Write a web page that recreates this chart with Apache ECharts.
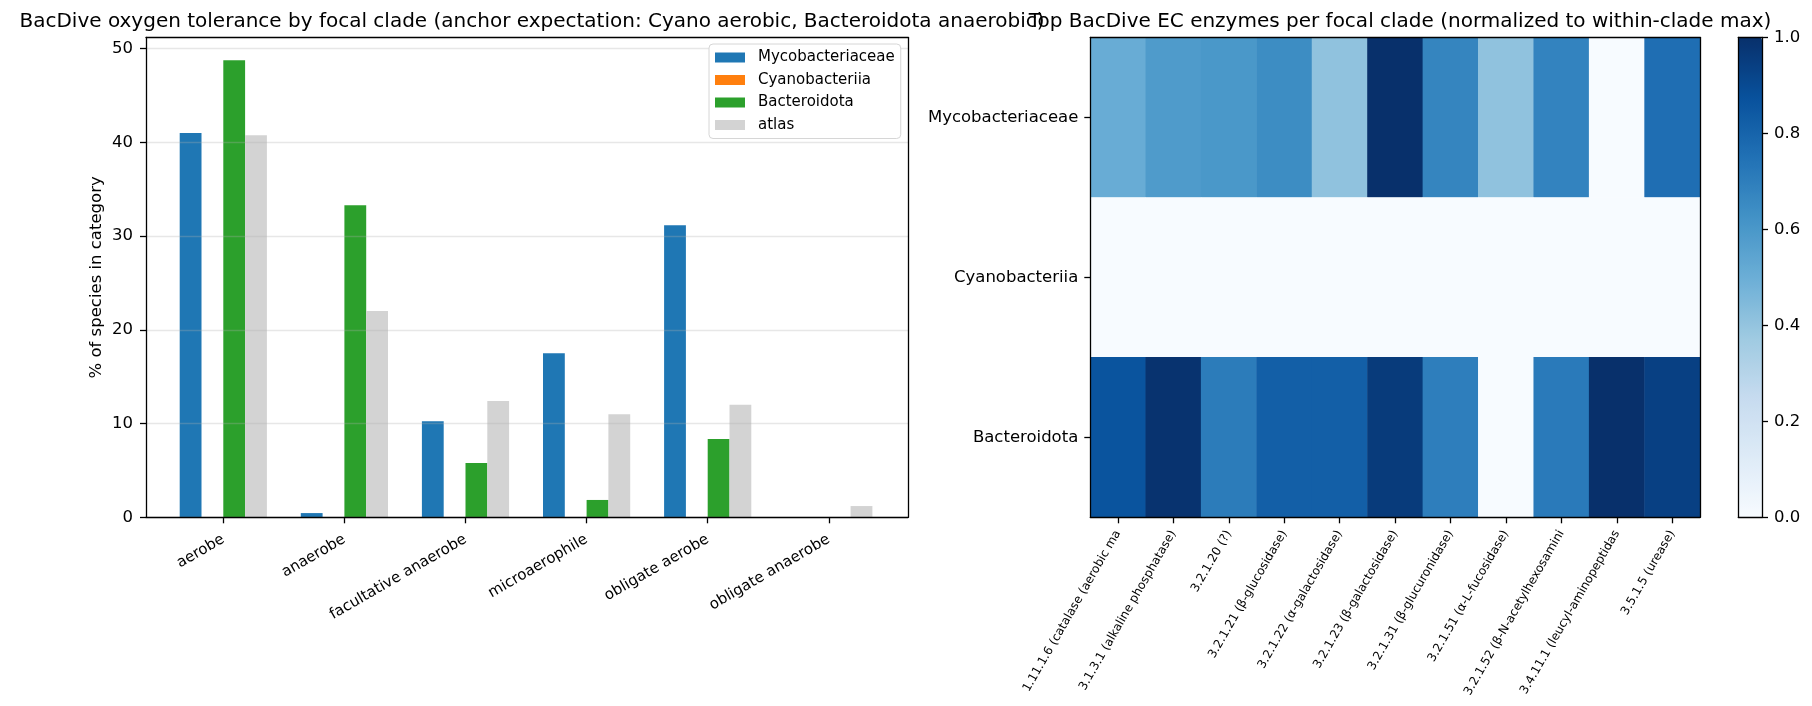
<!DOCTYPE html>
<html>
<head>
<meta charset="utf-8">
<title>BacDive oxygen tolerance and EC enzymes</title>
<script src="https://cdn.jsdelivr.net/npm/echarts@6.0.0/dist/echarts.min.js"></script>
<style>
  html, body { margin: 0; padding: 0; background: #fff; }
  #chart { width: 1812px; height: 706px; }
</style>
</head>
<body>
<div id="chart"></div>
<script>
const oxygenCategories = [
  'aerobe',
  'anaerobe',
  'facultative anaerobe',
  'microaerophile',
  'obligate aerobe',
  'obligate anaerobe',
];
const mycobacteriaceae = [41.0, 0.45, 10.25, 17.5, 31.15, 0];
const cyanobacteriia = [0, 0, 0, 0, 0, 0];
const bacteroidota = [48.75, 33.3, 5.8, 1.85, 8.35, 0];
const atlas = [40.75, 22.0, 12.4, 11.0, 12.0, 1.2];
const percentTicks = [0, 10, 20, 30, 40, 50];

const clades = ['Mycobacteriaceae', 'Cyanobacteriia', 'Bacteroidota'];
const enzymes = [
  '1.11.1.6 (catalase (aerobic ma',
  '3.1.3.1 (alkaline phosphatase)',
  '3.2.1.20 (?)',
  '3.2.1.21 (β-glucosidase)',
  '3.2.1.22 (α-galactosidase)',
  '3.2.1.23 (β-galactosidase)',
  '3.2.1.31 (β-glucuronidase)',
  '3.2.1.51 (α-L-fucosidase)',
  '3.2.1.52 (β-N-acetylhexosamini',
  '3.4.11.1 (leucyl-aminopeptidas',
  '3.5.1.5 (urease)',
];
const mycoEnzymes = [0.51, 0.585, 0.6, 0.645, 0.41, 1.0, 0.675, 0.41, 0.68, 0, 0.76];
const cyanoEnzymes = [0, 0, 0, 0, 0, 0, 0, 0, 0, 0, 0];
const bacteroEnzymes = [0.865, 0.99, 0.71, 0.82, 0.82, 0.958, 0.7, 0, 0.715, 1.0, 0.94];
const colorbarTicks = [0, 0.2, 0.4, 0.6, 0.8, 1.0];

// matplotlib "Blues"
const blues = ['#f7fbff', '#deebf7', '#c6dbef', '#9ecae1', '#6baed6', '#4292c6', '#2171b5', '#08519c', '#08306b'];

const FONT = 'DejaVu Sans';
const BLACK = '#000';
const frameLine = { show: true, onZero: false, lineStyle: { color: BLACK, width: 1.3 } };
const tickStyle = { color: BLACK, width: 1.3 };

// same autoscale rule as matplotlib: 5% headroom over the tallest bar
const yMax = Math.max(...mycobacteriaceae, ...cyanobacteriia, ...bacteroidota, ...atlas) * 1.05;

const heatmapData = [];
[mycoEnzymes, cyanoEnzymes, bacteroEnzymes].forEach((row, r) => {
  row.forEach((v, c) => heatmapData.push([c, r, v]));
});

function frameAxis(gridIndex, position) {
  return {
    gridIndex,
    position,
    type: 'value',
    min: 0,
    max: 1,
    z: 10,
    silent: true,
    axisLine: frameLine,
    axisTick: { show: false },
    axisLabel: { show: false },
    splitLine: { show: false },
  };
}

function barSeries(name, data, color) {
  return {
    name,
    type: 'bar',
    xAxisIndex: 2,
    yAxisIndex: 2,
    data,
    barWidth: 21.8,
    barGap: '0%',
    itemStyle: { color },
    emphasis: { disabled: true },
    silent: true,
  };
}

const titleStyle = { fontSize: 20, fontWeight: 'normal', color: BLACK, fontFamily: FONT };

const option = {
  animation: false,
  backgroundColor: '#fff',
  textStyle: { fontFamily: FONT, color: BLACK },
  title: [
    {
      text: 'BacDive oxygen tolerance by focal clade (anchor expectation: Cyano aerobic, Bacteroidota anaerobic)',
      left: 527,
      top: 7,
      textAlign: 'center',
      textStyle: titleStyle,
    },
    {
      text: 'Top BacDive EC enzymes per focal clade (normalized to within-clade max)',
      left: 1395,
      top: 7,
      textAlign: 'center',
      textStyle: titleStyle,
    },
  ],
  legend: {
    data: ['Mycobacteriaceae', 'Cyanobacteriia', 'Bacteroidota', 'atlas'],
    orient: 'vertical',
    left: 709,
    top: 44,
    padding: [6, 6, 6, 6],
    itemWidth: 30,
    itemHeight: 10,
    itemGap: 7.5,
    icon: 'rect',
    itemStyle: { borderWidth: 0 },
    textStyle: { fontSize: 15, color: BLACK, fontFamily: FONT, lineHeight: 15, padding: [0, 0, 0, 8] },
    backgroundColor: '#fff',
    borderColor: '#d6d6d6',
    borderWidth: 1,
    borderRadius: 4,
    selectedMode: false,
    z: 20,
  },
  grid: [
    { left: 146, top: 37.5, width: 762, height: 479.8, outerBoundsMode: 'none' },
    { left: 162.75, top: 37.5, width: 726.6, height: 479.8, outerBoundsMode: 'none' },
    { left: 1090.3, top: 37.5, width: 609.7, height: 479.8, outerBoundsMode: 'none' },
    { left: 1738.3, top: 37.5, width: 23.7, height: 479.8, outerBoundsMode: 'none' },
  ],
  xAxis: [
    frameAxis(0, 'bottom'),
    frameAxis(0, 'top'),
    {
      gridIndex: 1,
      type: 'category',
      data: oxygenCategories,
      axisLine: { show: false },
      axisTick: { show: true, alignWithLabel: true, length: 6, lineStyle: tickStyle },
      axisLabel: { rotate: 30, fontSize: 15, color: BLACK, margin: 21, interval: 0 },
      splitLine: { show: false },
    },
    {
      gridIndex: 2,
      type: 'category',
      data: enzymes,
      position: 'bottom',
      z: 10,
      axisLine: frameLine,
      axisTick: { show: true, alignWithLabel: true, length: 6, lineStyle: tickStyle },
      axisLabel: { rotate: 60, fontSize: 12, color: BLACK, margin: 14, interval: 0 },
      splitLine: { show: false },
    },
    frameAxis(2, 'top'),
    frameAxis(3, 'bottom'),
    frameAxis(3, 'top'),
  ],
  yAxis: [
    {
      gridIndex: 0,
      type: 'value',
      min: 0,
      max: yMax,
      interval: 10,
      z: 3,
      name: '% of species in category',
      nameLocation: 'middle',
      nameGap: 41,
      nameTextStyle: { fontSize: 16.5, color: BLACK, fontFamily: FONT },
      axisLine: frameLine,
      axisTick: { show: true, length: 6, lineStyle: tickStyle, customValues: percentTicks },
      axisLabel: { fontSize: 16.5, color: BLACK, margin: 13, customValues: percentTicks },
      splitLine: { show: true, lineStyle: { color: 'rgba(176,176,176,0.3)', width: 1.3 } },
    },
    frameAxis(0, 'right'),
    { gridIndex: 1, type: 'value', min: 0, max: yMax, show: false },
    {
      gridIndex: 2,
      type: 'category',
      data: clades,
      inverse: true,
      z: 10,
      axisLine: frameLine,
      axisTick: { show: true, alignWithLabel: true, length: 6, lineStyle: tickStyle },
      axisLabel: { fontSize: 16.5, color: BLACK, margin: 12 },
      splitLine: { show: false },
      splitArea: { show: false },
    },
    frameAxis(2, 'right'),
    {
      gridIndex: 3,
      type: 'value',
      position: 'right',
      min: 0,
      max: 1,
      interval: 0.2,
      z: 10,
      axisLine: frameLine,
      axisTick: { show: true, length: 6, lineStyle: tickStyle, customValues: colorbarTicks },
      axisLabel: {
        fontSize: 16.5,
        color: BLACK,
        margin: 12,
        customValues: colorbarTicks,
        formatter: (v) => v.toFixed(1),
      },
      splitLine: { show: false },
    },
    frameAxis(3, 'left'),
  ],
  visualMap: {
    type: 'continuous',
    seriesIndex: 4,
    dimension: 2,
    min: 0,
    max: 1,
    calculable: false,
    hoverLink: false,
    left: 1738.3,
    top: 37.5,
    itemWidth: 23.7,
    itemHeight: 479.8,
    padding: 0,
    inRange: { color: blues },
  },
  series: [
    barSeries('Mycobacteriaceae', mycobacteriaceae, '#1f77b4'),
    barSeries('Cyanobacteriia', cyanobacteriia, '#ff7f0e'),
    barSeries('Bacteroidota', bacteroidota, '#2ca02c'),
    barSeries('atlas', atlas, '#d3d3d3'),
    {
      type: 'heatmap',
      xAxisIndex: 3,
      yAxisIndex: 3,
      data: heatmapData,
      emphasis: { disabled: true },
      silent: true,
    },
  ],
};

const chart = echarts.init(document.getElementById('chart'), null, { renderer: 'canvas' });
chart.setOption(option);
</script>
</body>
</html>
